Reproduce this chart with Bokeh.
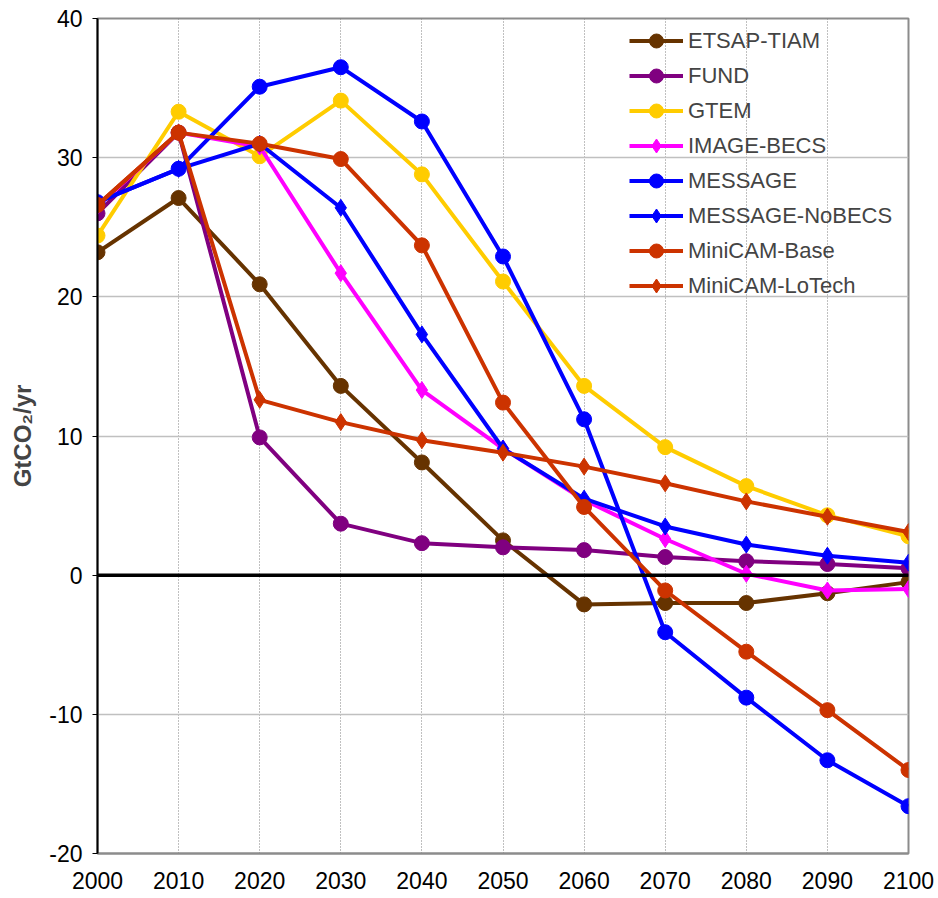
from bokeh.plotting import figure
from bokeh.models import Span, FixedTicker, Legend, LegendItem, Range1d
from bokeh.embed import file_html
from bokeh.resources import INLINE

years = [2000, 2010, 2020, 2030, 2040, 2050, 2060, 2070, 2080, 2090, 2100]
x_ticks = years
y_ticks = [-20, -10, 0, 10, 20, 30, 40]
y_tick_labels = {-20: "-20", -10: "-10", 0: "0", 10: "10", 20: "20", 30: "30", 40: "40"}

etsap_tiam = [23.2, 27.1, 20.9, 13.6, 8.1, 2.5, -2.1, -2.0, -2.0, -1.3, -0.5]
fund = [26.0, 31.8, 9.9, 3.7, 2.3, 2.0, 1.8, 1.3, 1.0, 0.8, 0.5]
gtem = [24.4, 33.3, 30.1, 34.1, 28.8, 21.1, 13.6, 9.2, 6.4, 4.3, 2.8]
image_becs = [26.5, 31.8, 30.8, 21.7, 13.3, 9.1, 5.4, 2.6, 0.1, -1.1, -1.0]
message = [26.8, 29.2, 35.1, 36.5, 32.6, 22.9, 11.2, -4.1, -8.8, -13.3, -16.6]
message_nobecs = [26.8, 29.2, 31.0, 26.4, 17.3, 9.1, 5.5, 3.5, 2.2, 1.4, 0.9]
minicam_base = [26.6, 31.8, 31.0, 29.9, 23.7, 12.4, 4.9, -1.1, -5.5, -9.7, -14.0]
minicam_lotech = [26.6, 31.8, 12.6, 11.0, 9.7, 8.8, 7.8, 6.6, 5.3, 4.2, 3.1]

series = [
    ("ETSAP-TIAM", etsap_tiam, "#663300", "circle"),
    ("FUND", fund, "#800080", "circle"),
    ("GTEM", gtem, "#FFCC00", "circle"),
    ("IMAGE-BECS", image_becs, "#FF00FF", "diamond"),
    ("MESSAGE", message, "#0000FF", "circle"),
    ("MESSAGE-NoBECS", message_nobecs, "#0000FF", "diamond"),
    ("MiniCAM-Base", minicam_base, "#CC3300", "circle"),
    ("MiniCAM-LoTech", minicam_lotech, "#CC3300", "diamond"),
]

p = figure(width=938, height=898, output_backend="svg", toolbar_location=None,
           x_range=Range1d(2000, 2100), y_range=Range1d(-20, 40),
           min_border_left=97, min_border_right=30, min_border_top=18, min_border_bottom=45)
p.background_fill_color = "white"
p.border_fill_color = "white"
p.outline_line_color = "#8c8c8c"
p.outline_line_width = 2

p.xgrid.ticker = FixedTicker(ticks=x_ticks)
p.ygrid.ticker = FixedTicker(ticks=y_ticks)
p.xgrid.grid_line_color = "#808080"
p.xgrid.grid_line_dash = "1 2"
p.xgrid.grid_line_width = 1
p.ygrid.grid_line_color = "#c0c0c0"
p.ygrid.grid_line_width = 1.5

p.xaxis.ticker = FixedTicker(ticks=x_ticks)
p.yaxis.ticker = FixedTicker(ticks=y_ticks)
p.yaxis.major_label_overrides = y_tick_labels
p.xaxis.major_tick_line_color = None
p.xaxis.minor_tick_line_color = None
p.xaxis.axis_line_color = "#8c8c8c"
p.xaxis.axis_line_width = 2
p.yaxis.axis_line_color = "black"
p.yaxis.axis_line_width = 2
p.yaxis.minor_tick_line_color = None
p.yaxis.major_tick_out = 5
p.yaxis.major_tick_in = 0
p.yaxis.major_tick_line_color = "black"
for ax in (p.xaxis, p.yaxis):
    ax.major_label_text_font = "Liberation Sans"
    ax.major_label_text_font_size = "23px"
    ax.major_label_text_color = "black"
p.xaxis.major_label_standoff = 12
p.yaxis.major_label_standoff = 10
p.yaxis.axis_label = "GtCO₂/yr"
p.yaxis.axis_label_text_font = "Liberation Sans"
p.yaxis.axis_label_text_font_size = "24px"
p.yaxis.axis_label_text_font_style = "bold"
p.yaxis.axis_label_standoff = 10

p.add_layout(Span(location=0, dimension="width", line_color="black", line_width=3.5))

items = []
for name, vals, color, marker in series:
    r1 = p.line(years, vals, line_color=color, line_width=4)
    size = 15 if marker == "circle" else 17
    r2 = p.scatter(years, vals, marker=marker, size=size, fill_color=color, line_color=color)
    items.append(LegendItem(label=name, renderers=[r1, r2]))

legend = Legend(items=items, location=(532, 550))
legend.border_line_color = None
legend.background_fill_alpha = 0
legend.label_text_font = "Liberation Sans"
legend.label_text_font_size = "22px"
legend.glyph_width = 54
legend.glyph_height = 35
legend.label_height = 35
legend.spacing = 0
legend.label_standoff = 5
legend.padding = 0
legend.margin = 0
p.add_layout(legend)

open("out.html", "w").write(file_html(p, INLINE))
